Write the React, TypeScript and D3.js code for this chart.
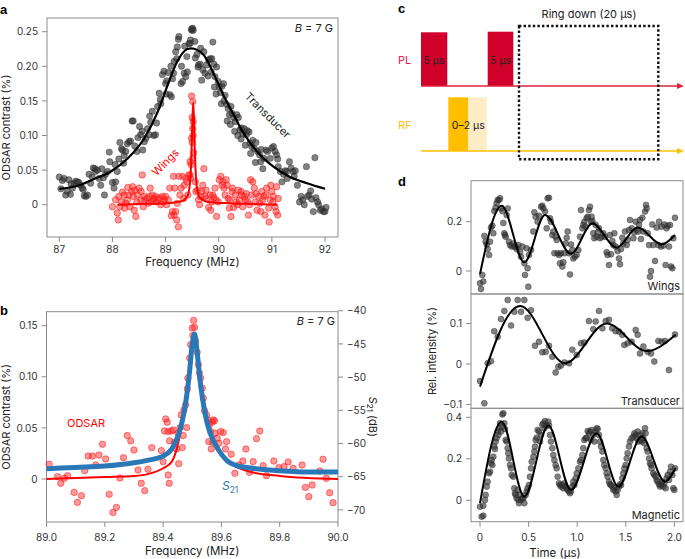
import React from "react";
import * as d3 from "d3";

type P = [number, number];

// ---------- Panel a : transducer (black) ----------
const transducerA: P[] = [
[87.00,0.040],[87.03,0.023],[87.06,0.035],[87.09,0.038],[87.12,0.014],[87.15,0.019],[87.18,0.036],[87.21,0.015],[87.25,0.024],[87.28,0.031],[87.31,0.034],[87.34,0.033],[87.37,0.032],[87.40,0.028],[87.43,0.024],[87.47,0.013],[87.50,0.012],[87.53,0.014],[87.56,0.044],[87.59,0.031],[87.64,0.053],[87.67,0.052],[87.68,0.048],[87.72,0.050],[87.75,0.038],[87.78,0.028],[87.83,0.039],[87.85,0.014],[87.87,0.044],[87.91,0.048],[87.94,0.076],[87.95,0.062],[88.00,0.032],[88.03,0.024],[88.06,0.033],[88.09,0.048],[88.12,0.066],[88.14,0.090],[88.17,0.081],[88.19,0.079],[88.22,0.071],[88.25,0.077],[88.28,0.088],[88.31,0.091],[88.34,0.092],[88.37,0.121],[88.39,0.121],[88.42,0.085],[88.46,0.077],[88.48,0.097],[88.51,0.113],[88.53,0.101],[88.57,0.079],[88.60,0.091],[88.63,0.096],[88.66,0.110],[88.69,0.101],[88.72,0.119],[88.75,0.135],[88.78,0.100],[88.81,0.101],[88.85,0.142],[88.88,0.161],[88.91,0.146],[88.94,0.188],[88.97,0.193],[89.00,0.175],[89.02,0.179],[89.05,0.191],[89.08,0.159],[89.11,0.156],[89.13,0.182],[89.16,0.207],[89.19,0.221],[89.21,0.211],[89.24,0.239],[89.25,0.243],[89.29,0.175],[89.32,0.178],[89.35,0.190],[89.38,0.185],[89.41,0.192],[89.44,0.233],[89.47,0.238],[89.49,0.252],[89.51,0.255],
[89.49,0.254],[89.52,0.252],[89.46,0.233],[89.55,0.236],[89.59,0.217],[89.62,0.202],[89.65,0.203],[89.68,0.180],[89.70,0.195],[89.74,0.190],[89.77,0.202],[89.81,0.209],[89.84,0.211],[89.87,0.211],[89.89,0.235],[89.91,0.203],[89.93,0.185],[89.96,0.199],[89.99,0.178],[90.03,0.162],[90.06,0.171],[90.09,0.175],[90.12,0.158],[90.15,0.145],[90.18,0.139],[90.20,0.130],[90.23,0.142],[90.25,0.132],[90.28,0.126],[90.31,0.120],[90.34,0.130],[90.37,0.126],[90.40,0.108],[90.43,0.111],[90.45,0.103],[90.48,0.110],[90.52,0.101],[90.54,0.107],[90.57,0.105],[90.59,0.089],[90.62,0.084],[90.64,0.093],[90.67,0.081],[90.70,0.090],[90.73,0.077],[90.77,0.072],[90.79,0.062],[90.83,0.052],[90.85,0.067],[90.89,0.079],[90.92,0.077],[90.97,0.067],[91.00,0.082],[91.03,0.084],[91.06,0.077],[91.09,0.072],[91.11,0.066],[91.12,0.055],[91.16,0.048],[91.19,0.033],[91.22,0.044],[91.25,0.049],[91.28,0.048],[91.29,0.038],[91.33,0.062],[91.36,0.053],[91.40,0.048],[91.42,0.041],[91.44,0.049],[91.48,0.028],[91.52,0.004],[91.55,0.012],[91.58,0.007],[91.61,0.000],[91.65,0.055],[91.67,0.012],[91.70,0.014],[91.73,0.020],[91.75,0.008],[91.78,-0.010],[91.81,0.068],[91.83,0.010],[91.86,0.004],[91.88,0.000],[91.91,-0.008],[91.94,-0.006],[91.97,-0.010],[92.00,-0.010],[92.02,-0.004],
[87.22,0.030],[87.45,0.022],[87.62,0.040],[87.80,0.052],[88.05,0.058],[88.21,0.060],[88.56,0.106],[88.70,0.128],[88.83,0.118],[88.90,0.152],[89.01,0.160],[89.10,0.200],[89.15,0.190],[89.22,0.228],[89.30,0.200],[89.36,0.229],[89.40,0.214],[89.56,0.212],[89.61,0.199],[89.66,0.226],[89.72,0.221],[89.80,0.186],[89.86,0.192],[89.92,0.170],[89.95,0.160],[90.01,0.170],[90.05,0.146],[90.10,0.150],[90.16,0.121],[90.22,0.116],[90.30,0.106],[90.36,0.100],[90.42,0.095],[90.50,0.086],[90.60,0.074],[90.69,0.061],[90.80,0.080]
];
const transducerFitA: P[] = [
[87.0,0.023],[87.34,0.027],[87.65,0.037],[87.97,0.048],[88.29,0.067],[88.6,0.096],[88.85,0.134],[89.03,0.171],[89.22,0.207],[89.41,0.225],[89.48,0.226],[89.71,0.217],[89.9,0.19],[90.09,0.158],[90.28,0.130],[90.47,0.103],[90.72,0.077],[91.03,0.055],[91.34,0.040],[91.66,0.031],[92.0,0.023]
];

// ---------- Panel a : wings (red) ----------
const wingsA: P[] = [
[88.00,-0.003],[88.06,0.007],[88.09,-0.012],[88.11,-0.022],[88.12,0.012],[88.14,-0.003],[88.17,0.004],[88.19,0.018],[88.22,0.014],[88.23,-0.005],[88.25,0.002],[88.28,0.007],[88.29,0.025],[88.31,0.014],[88.33,-0.003],[88.36,0.019],[88.38,0.026],[88.39,0.012],[88.41,-0.008],[88.42,0.021],[88.44,-0.017],[88.46,0.004],[88.47,0.014],[88.50,0.024],[88.53,0.007],[88.54,0.019],[88.56,0.043],[88.58,-0.003],[88.60,0.012],[88.61,0.007],[88.65,0.009],[88.67,0.002],[88.69,0.012],[88.71,0.024],[88.73,0.004],[88.75,0.014],[88.77,0.007],[88.78,0.009],[88.81,0.012],[88.83,0.004],[88.86,0.008],[88.88,0.010],[88.91,0.000],[88.94,0.012],[88.96,0.004],[88.98,0.008],[89.00,0.012],[89.02,0.000],[89.05,0.007],[89.08,0.024],[89.11,-0.016],[89.13,-0.010],[89.15,0.041],[89.16,-0.015],[89.17,0.024],[89.19,-0.010],[89.21,-0.022],[89.22,0.002],[89.24,-0.032],[89.25,0.041],[89.27,0.014],[89.29,0.024],[89.32,0.041],[89.34,0.009],[89.35,0.028],[89.38,0.038],[89.40,0.033],[89.42,0.014],[89.44,0.043],[89.46,0.062],[89.47,0.038],[89.49,0.157],[89.51,0.149],[89.52,0.120],
[89.50,0.126],[89.51,0.110],[89.52,0.100],[89.50,0.090],[89.53,0.075],[89.48,0.058],
[89.46,0.043],[89.49,0.096],[89.51,0.067],[89.56,0.033],[89.57,0.019],[89.60,0.021],[89.62,0.007],[89.64,0.000],[89.66,0.012],[89.68,0.019],[89.70,0.028],[89.72,0.052],[89.74,0.012],[89.76,0.021],[89.77,0.009],[89.81,-0.004],[89.84,0.014],[89.85,-0.008],[89.87,0.004],[89.89,0.014],[89.91,0.010],[89.93,0.024],[89.95,0.007],[89.96,-0.017],[89.99,0.004],[90.01,0.036],[90.04,0.041],[90.06,0.028],[90.08,0.033],[90.10,0.024],[90.12,0.014],[90.14,0.036],[90.16,0.028],[90.18,0.009],[90.20,-0.005],[90.21,0.007],[90.23,-0.017],[90.25,0.019],[90.26,0.024],[90.28,-0.004],[90.31,0.014],[90.33,0.004],[90.35,0.000],[90.37,0.021],[90.39,0.007],[90.42,0.019],[90.43,0.014],[90.45,-0.003],[90.48,0.012],[90.50,0.007],[90.52,0.016],[90.54,0.005],[90.56,-0.015],[90.58,0.000],[90.60,0.036],[90.62,0.014],[90.64,0.033],[90.67,0.024],[90.69,0.004],[90.70,0.016],[90.72,-0.008],[90.75,0.012],[90.77,0.002],[90.79,-0.010],[90.81,0.019],[90.83,0.007],[90.85,0.012],[90.87,-0.015],[90.89,0.014],[90.90,0.024],[90.94,-0.005],[90.95,-0.025],[90.97,0.007],[90.98,0.028],[91.00,0.019],[91.02,0.004],[91.03,0.012],[91.06,-0.003],[91.08,-0.010],[91.09,0.026],[91.11,-0.015],[91.12,0.009]
];
const wingsFitA: P[] = [
[88.1,0],[88.5,0.001],[89.0,0.002],[89.3,0.005],[89.40,0.011],[89.44,0.02],[89.47,0.042],[89.49,0.08],[89.505,0.122],[89.52,0.148],[89.535,0.122],[89.55,0.08],[89.57,0.042],[89.60,0.02],[89.65,0.01],[89.8,0.004],[90.2,0.002],[90.6,0.001],[91.1,0]
];
const ticksAX = [87, 88, 89, 90, 91, 92];
const ticksAY = [0, 0.05, 0.1, 0.15, 0.2, 0.25];

// ---------- Panel b ----------
const odsarB: P[] = [
[89.009,0.0144],[89.038,0.0023],[89.049,-0.0042],[89.061,0.0007],[89.072,0.0033],[89.095,-0.0131],[89.106,-0.0229],[89.120,-0.0163],[89.131,0.0082],[89.143,0.0225],[89.158,0.0225],[89.169,0.0137],[89.180,0.0235],[89.192,0.034],[89.203,0.0196],[89.215,-0.015],[89.228,-0.0327],[89.240,-0.0278],[89.252,0.001],[89.264,0.0209],[89.277,0.0425],[89.289,0.0373],[89.300,0.0284],[89.314,0.0088],[89.325,-0.0042],[89.337,-0.0114],[89.348,0.0095],[89.361,0.0307],[89.394,0.0278],[89.400,0.017],[89.405,0.047],[89.409,0.0588],[89.414,0.0556],[89.417,0.0464],[89.4225,0.0373],[89.421,-0.0042],[89.4175,0.0039],[89.428,0.047],[89.435,0.048],[89.440,0.036],[89.446,0.0294],[89.451,0.0448],[89.4535,0.015],[89.458,0.0503],[89.462,0.0627],[89.466,0.0307],[89.469,0.0425],[89.4716,0.0676],[89.477,0.0725],[89.4807,0.0503],[89.483,0.0882],[89.485,0.0987],[89.491,0.1183],[89.4945,0.1314],[89.500,0.1477],[89.5047,0.1552],[89.508,0.1484],[89.502,0.1405],[89.5115,0.1346],[89.517,0.1239],[89.521,0.1118],[89.5245,0.1036],[89.5287,0.0987],[89.5344,0.0889],[89.538,0.0791],[89.5424,0.0667],[89.549,0.0627],[89.5538,0.0578],[89.558,0.0523],[89.563,0.0464],[89.5686,0.0556],[89.572,0.0578],[89.5766,0.0569],[89.5565,0.0366],[89.5652,0.0294],[89.5701,0.036],[89.578,0.0448],[89.5857,0.0399],[89.5914,0.035],[89.597,0.0464],[89.6063,0.0454],[89.6143,0.0294],[89.6177,0.0366],[89.6337,0.0242],[89.6462,0.0056],[89.6599,0.0137],[89.6736,0.0176],[89.6839,0.0294],[89.6964,0.0065],[89.709,0.017],[89.7204,0.0395],[89.7318,0.047],[89.7433,0.0131],[89.7547,0.0033],[89.7798,0.0176],[89.7969,0.0111],[89.8148,0.0121],[89.8289,0.0167],[89.846,0.0105],[89.8768,0.0137],[89.8882,-0.0082],[89.8997,-0.0173],[89.9111,-0.0059],[89.9373,0.0078],[89.9487,0.0193],[89.9601,0.0007],[89.9716,-0.0134],[89.983,-0.0232]
];
const odsarFitB: P[] = [
[89.0,0],[89.2,0.002],[89.3,0.003],[89.35,0.005],[89.4,0.0105],[89.43,0.017],[89.45,0.033],[89.47,0.063],[89.49,0.105],[89.506,0.1395],[89.52,0.112],[89.54,0.0725],[89.56,0.046],[89.6,0.0235],[89.65,0.012],[89.7,0.007],[89.8,0.003],[90.0,0]
];
const s21B: P[] = [
[89.0,-63.8],[89.1,-63.6],[89.2,-63.4],[89.3,-62.9],[89.35,-62.5],[89.4,-61.9],[89.43,-60.8],[89.45,-59.0],[89.46,-57.6],[89.47,-55.7],[89.48,-53.1],[89.49,-49.5],[89.5,-45.0],[89.508,-43.5],[89.515,-45.5],[89.52,-47.6],[89.53,-51.6],[89.54,-54.5],[89.55,-56.7],[89.565,-58.8],[89.58,-60.2],[89.6,-61.6],[89.62,-62.6],[89.65,-63.3],[89.7,-63.7],[89.8,-64.1],[89.9,-64.3],[90.0,-64.3]
];
const ticksBX = [89.0, 89.2, 89.4, 89.6, 89.8, 90.0];
const ticksBY = [0, 0.05, 0.1, 0.15];
const ticksBY2 = [-40, -45, -50, -55, -60, -65, -70];

// ---------- Panel d ----------
const wingsD: P[] = [
[0.000,-0.050],[0.010,-0.073],[0.024,-0.016],[0.034,-0.043],[0.045,0.142],[0.058,0.119],[0.069,0.108],[0.079,0.089],[0.093,0.065],[0.103,0.119],[0.113,0.176],[0.127,0.184],[0.137,0.153],[0.147,0.243],[0.161,0.257],[0.171,0.275],[0.182,0.288],[0.195,0.288],[0.206,0.295],[0.216,0.254],[0.230,0.243],[0.240,0.195],[0.250,0.153],[0.257,0.146],[0.264,0.139],[0.274,0.227],[0.285,0.254],[0.298,0.119],[0.309,0.105],[0.326,0.099],[0.343,0.112],[0.353,0.099],[0.367,0.099],[0.377,0.089],[0.394,0.105],[0.412,0.078],[0.422,0.058],[0.436,0.099],[0.456,0.031],[0.463,-0.016],[0.480,0.092],[0.490,0.011],[0.497,-0.064],[0.504,0.065],[0.525,0.085],[0.549,0.160],[0.559,0.238],[0.573,0.220],[0.593,0.200],[0.607,0.224],[0.628,0.261],[0.641,0.265],[0.652,0.254],[0.669,0.241],[0.686,0.173],[0.696,0.295],[0.710,0.297],[0.720,0.214],[0.730,0.200],[0.744,0.146],[0.754,0.160],[0.765,0.072],[0.778,0.139],[0.789,0.126],[0.799,0.072],[0.813,0.065],[0.823,0.031],[0.833,0.072],[0.847,0.018],[0.857,0.035],[0.868,0.072],[0.881,0.112],[0.892,0.135],[0.902,0.160],[0.916,0.072],[0.926,-0.014],[0.936,0.108],[0.950,0.085],[0.960,0.051],[0.977,0.058],[0.995,0.065],[1.012,0.085],[1.029,0.139],[1.039,0.247],[1.053,0.173],[1.063,0.187],[1.073,0.200],[1.087,0.180],[1.097,0.214],[1.108,0.220],[1.121,0.247],[1.132,0.261],[1.142,0.200],[1.149,0.220],[1.156,0.203],[1.166,0.153],[1.176,0.133],[1.190,0.187],[1.200,0.139],[1.211,0.157],[1.224,0.173],[1.235,0.133],[1.252,0.139],[1.269,0.153],[1.286,0.139],[1.303,0.076],[1.313,0.065],[1.327,0.024],[1.337,0.146],[1.348,0.068],[1.361,0.122],[1.372,0.105],[1.382,0.153],[1.396,0.099],[1.416,0.081],[1.430,0.051],[1.440,0.027],[1.451,0.089],[1.464,0.135],[1.475,0.112],[1.492,0.160],[1.509,0.105],[1.519,0.126],[1.533,0.166],[1.543,0.207],[1.560,0.173],[1.578,0.133],[1.588,0.157],[1.602,0.200],[1.612,0.166],[1.629,0.160],[1.636,0.187],[1.646,0.207],[1.656,0.130],[1.670,0.216],[1.680,0.160],[1.698,0.241],[1.708,0.268],[1.715,0.254],[1.725,0.153],[1.739,0.105],[1.749,-0.023],[1.759,0.000],[1.773,0.189],[1.783,0.105],[1.801,0.041],[1.818,0.176],[1.835,0.105],[1.842,0.200],[1.862,0.099],[1.869,0.180],[1.886,0.103],[1.896,0.189],[1.910,0.024],[1.920,0.173],[1.931,0.184],[1.944,0.099],[1.955,0.187],[1.965,0.018],[1.979,0.011],[1.989,0.133],[2.006,0.216]
];
const wingsFitD: P[] = [
[0,-0.012],[0.223,0.265],[0.456,0.035],[0.669,0.227],[0.936,0.070],[1.156,0.193],[1.406,0.095],[1.622,0.176],[1.869,0.108],[2.006,0.146]
];
const transD: P[] = [
[0.000,-0.042],[0.045,-0.097],[0.079,0.002],[0.113,0.007],[0.147,0.081],[0.182,0.067],[0.216,0.111],[0.250,0.131],[0.285,0.158],[0.319,0.095],[0.353,0.129],[0.388,0.158],[0.422,0.129],[0.456,0.158],[0.490,0.114],[0.525,0.133],[0.566,0.045],[0.607,0.055],[0.641,0.029],[0.676,0.030],[0.710,0.045],[0.744,0.018],[0.778,-0.021],[0.806,-0.007],[0.833,-0.004],[0.868,0.004],[0.916,0.002],[0.950,0.035],[0.995,0.022],[1.039,0.051],[1.073,0.053],[1.121,0.106],[1.166,0.086],[1.190,0.105],[1.224,0.131],[1.259,0.088],[1.293,0.106],[1.327,0.109],[1.361,0.088],[1.396,0.081],[1.430,0.080],[1.464,0.072],[1.485,0.047],[1.519,0.051],[1.560,0.055],[1.602,0.084],[1.622,0.072],[1.646,0.026],[1.680,0.043],[1.725,0.030],[1.759,0.026],[1.793,0.006],[1.835,0.057],[1.869,0.055],[1.903,0.057],[1.944,-0.015],[2.006,0.073]
];
const transFitD: P[] = [
[0,-0.056],[0.412,0.143],[0.874,0.002],[1.303,0.100],[1.715,0.032],[2.013,0.072]
];
const magD: P[] = [
[0.000,-0.031],[0.017,-0.079],[0.034,-0.074],[0.034,-0.026],[0.051,0.002],[0.058,0.026],[0.069,0.066],[0.079,0.090],[0.093,0.130],[0.103,0.138],[0.113,0.178],[0.120,0.194],[0.127,0.170],[0.137,0.210],[0.147,0.259],[0.154,0.247],[0.161,0.283],[0.171,0.299],[0.182,0.331],[0.189,0.315],[0.195,0.347],[0.206,0.371],[0.216,0.331],[0.223,0.355],[0.230,0.414],[0.240,0.419],[0.250,0.371],[0.257,0.344],[0.264,0.291],[0.274,0.283],[0.285,0.251],[0.291,0.227],[0.298,0.202],[0.309,0.170],[0.319,0.154],[0.326,0.122],[0.343,0.114],[0.353,0.058],[0.360,0.034],[0.367,0.026],[0.377,0.010],[0.388,0.050],[0.394,0.002],[0.401,-0.014],[0.412,0.026],[0.422,0.002],[0.436,0.010],[0.446,0.010],[0.456,-0.014],[0.470,0.026],[0.480,0.042],[0.490,0.058],[0.504,0.074],[0.514,0.114],[0.525,0.154],[0.532,0.186],[0.549,0.210],[0.559,0.235],[0.566,0.259],[0.573,0.291],[0.583,0.302],[0.593,0.339],[0.607,0.331],[0.617,0.283],[0.628,0.315],[0.641,0.363],[0.652,0.371],[0.662,0.347],[0.669,0.382],[0.686,0.360],[0.703,0.379],[0.710,0.360],[0.720,0.315],[0.730,0.283],[0.744,0.251],[0.754,0.218],[0.765,0.194],[0.778,0.170],[0.789,0.154],[0.799,0.114],[0.813,0.082],[0.823,0.074],[0.833,0.066],[0.847,0.074],[0.857,0.058],[0.868,0.082],[0.881,0.066],[0.892,0.058],[0.902,0.050],[0.916,0.042],[0.926,0.034],[0.936,0.045],[0.950,0.066],[0.960,0.090],[0.971,0.074],[0.984,0.106],[0.995,0.130],[1.012,0.154],[1.029,0.186],[1.039,0.194],[1.053,0.218],[1.063,0.251],[1.073,0.291],[1.087,0.299],[1.097,0.302],[1.108,0.334],[1.121,0.323],[1.132,0.331],[1.142,0.291],[1.149,0.339],[1.166,0.315],[1.176,0.283],[1.190,0.331],[1.200,0.347],[1.211,0.344],[1.224,0.315],[1.235,0.283],[1.245,0.259],[1.259,0.235],[1.269,0.194],[1.279,0.170],[1.293,0.154],[1.303,0.130],[1.313,0.114],[1.327,0.090],[1.337,0.077],[1.348,0.074],[1.361,0.066],[1.372,0.050],[1.382,0.058],[1.396,0.042],[1.406,0.026],[1.416,0.050],[1.430,0.066],[1.440,0.077],[1.451,0.074],[1.464,0.106],[1.475,0.130],[1.485,0.154],[1.499,0.170],[1.509,0.202],[1.519,0.227],[1.533,0.259],[1.543,0.283],[1.560,0.299],[1.578,0.307],[1.588,0.323],[1.602,0.315],[1.612,0.299],[1.622,0.331],[1.629,0.283],[1.646,0.315],[1.656,0.291],[1.663,0.283],[1.670,0.323],[1.680,0.299],[1.691,0.275],[1.698,0.347],[1.704,0.323],[1.715,0.251],[1.725,0.235],[1.739,0.202],[1.749,0.178],[1.759,0.170],[1.766,0.154],[1.783,0.130],[1.794,0.122],[1.807,0.114],[1.818,0.098],[1.828,0.090],[1.842,0.077],[1.852,0.066],[1.862,0.074],[1.876,0.090],[1.886,0.066],[1.896,0.082],[1.910,0.058],[1.920,0.106],[1.931,0.122],[1.944,0.098],[1.955,0.138],[1.965,0.162],[1.979,0.122],[1.989,0.058],[1.999,0.050],[2.006,0.154]
];
const magFitD: P[] = [
[0,-0.014],[0.223,0.379],[0.456,0.018],[0.703,0.360],[0.936,0.050],[1.2,0.323],[1.423,0.066],[1.663,0.307],[1.903,0.09],[2.013,0.157]
];
const ticksDX = [0, 0.5, 1.0, 1.5, 2.0];
const ticksWY = [0, 0.2];
const ticksTY = [-0.1, 0, 0.1];
const ticksMY = [0, 0.2, 0.4];

const FONT = "Inter, 'Noto Sans', 'Liberation Sans', sans-serif";
const AX = "#8c8c8c";
const TXT = "#333";
const RED = "#ff1a1a";
const BLUE = "#2a78b8";

const fmtMinus = (s: string) => s.replace("-", "\u2212");

export default function App() {
  // panel a
  const xA = d3.scaleLinear().domain([87, 92]).range([59.3, 325]);
  const yA = d3.scaleLinear().domain([0, 0.25]).range([204.7, 31.7]);
  const fA = { l: 47, r: 338, t: 18, b: 237 };
  // panel b
  const xB = d3.scaleLinear().domain([89, 90]).range([46.5, 338]);
  const yB = d3.scaleLinear().domain([0, 0.15]).range([479, 325.7]);
  const yB2 = d3.scaleLinear().domain([-40, -70]).range([310.7, 509.9]);
  const fB = { l: 46.5, r: 338, t: 311.7, b: 522 };
  // panel d
  const xD = d3.scaleLinear().domain([0, 2]).range([480, 674.4]);
  const yW = d3.scaleLinear().domain([0, 0.2]).range([271, 221.7]);
  const yT = d3.scaleLinear().domain([-0.1, 0.1]).range([404.5, 323.5]);
  const yM = d3.scaleLinear().domain([0, 0.4]).range([500.3, 417.3]);
  const dL = 471, dR = 683;
  const dRows = [180.7, 294, 408.3, 521.7];

  const mk = (x: any, y: any) =>
    d3.line<P>().x((d) => x(d[0])).y((d) => y(d[1])).curve(d3.curveMonotoneX);

  const dot = (key: string, cx: number, cy: number, red: boolean, r = 3.2) =>
    red ? (
      <circle key={key} cx={cx} cy={cy} r={r} fill={RED} fillOpacity={0.45} stroke={RED} strokeOpacity={0.55} strokeWidth={1} />
    ) : (
      <circle key={key} cx={cx} cy={cy} r={r} fill="#333" fillOpacity={0.62} stroke="#222" strokeOpacity={0.45} strokeWidth={0.8} />
    );

  const frame = (f: { l: number; r: number; t: number; b: number }) => (
    <rect x={f.l} y={f.t} width={f.r - f.l} height={f.b - f.t} fill="none" stroke={AX} strokeWidth={1} />
  );

  const yTicksLeft = (ticks: number[], y: any, x0: number, fmt: (v: number) => string, key: string) =>
    ticks.map((v) => (
      <g key={key + v}>
        <line x1={x0 - 5} x2={x0} y1={y(v)} y2={y(v)} stroke={AX} />
        <text x={x0 - 9} y={y(v) + 3.6} textAnchor="end" fontSize={10} fill={TXT}>
          {fmt(v)}
        </text>
      </g>
    ));
  const xTicksBottom = (ticks: number[], x: any, y0: number, fmt: (v: number) => string, key: string, ly: number) =>
    ticks.map((v) => (
      <g key={key + v}>
        <line x1={x(v)} x2={x(v)} y1={y0} y2={y0 + 5} stroke={AX} />
        <text x={x(v)} y={ly} textAnchor="middle" fontSize={10} fill={TXT}>
          {fmt(v)}
        </text>
      </g>
    ));

  const fmt2 = (v: number) => (v === 0 ? "0" : v.toFixed(2));
  const fmt1 = (v: number) => (v === 0 ? "0" : fmtMinus(v.toFixed(1)));

  return (
    <svg
      width={685}
      height={559}
      style={{ position: "absolute", left: 0, top: 0, background: "#fff" }}
      fontFamily={FONT}
    >
      {/* ================= Panel a ================= */}
      <text x={0} y={13.5} fontSize={13} fontWeight="bold" fontFamily="'Liberation Sans', Arial, sans-serif">a</text>
      {frame(fA)}
      {yTicksLeft(ticksAY, yA, fA.l, fmt2, "ay")}
      {xTicksBottom(ticksAX, xA, fA.b, (v) => String(v), "ax", 252.5)}
      <g>{transducerA.map((d, i) => dot("ta" + i, xA(d[0]), yA(d[1]), false))}</g>
      <g>{wingsA.map((d, i) => dot("wa" + i, xA(d[0]), yA(d[1]), true))}</g>
      <path d={mk(xA, yA)(transducerFitA) || ""} fill="none" stroke="#000" strokeWidth={2.2} />
      <path d={mk(xA, yA)(wingsFitA) || ""} fill="none" stroke="#ff0000" strokeWidth={2} />
      <text x={333} y={31.5} textAnchor="end" fontSize={11} fill="#222">
        <tspan fontStyle="italic">B</tspan> = 7 G
      </text>
      <text transform="translate(168,165) rotate(-45)" textAnchor="middle" fontSize={11} fill="#ff0000">Wings</text>
      <text transform="translate(265,118) rotate(45)" textAnchor="middle" fontSize={11} fill="#222">Transducer</text>
      <text transform={`translate(10,${(fA.t + fA.b) / 2}) rotate(-90)`} textAnchor="middle" fontSize={11} fill="#222">ODSAR contrast (%)</text>
      <text x={(fA.l + fA.r) / 2} y={266} textAnchor="middle" fontSize={11.5} fill="#222">Frequency (MHz)</text>

      {/* ================= Panel b ================= */}
      <text x={0} y={315} fontSize={13} fontWeight="bold" fontFamily="'Liberation Sans', Arial, sans-serif">b</text>
      {frame(fB)}
      {yTicksLeft(ticksBY, yB, fB.l, fmt2, "by")}
      {xTicksBottom(ticksBX, xB, fB.b, (v) => v.toFixed(1), "bx", 540.5)}
      {ticksBY2.map((v) => (
        <g key={"by2" + v}>
          <line x1={fB.r} x2={fB.r + 5} y1={yB2(v)} y2={yB2(v)} stroke={AX} />
          <text x={fB.r + 9} y={yB2(v) + 3.6} fontSize={10} fill={TXT}>{fmtMinus(String(v))}</text>
        </g>
      ))}
      <g>{odsarB.map((d, i) => dot("ob" + i, xB(d[0]), yB(d[1]), true))}</g>
      <path d={mk(xB, yB)(odsarFitB) || ""} fill="none" stroke="#ff0000" strokeWidth={2} />
      <path d={mk(xB, yB2)(s21B) || ""} fill="none" stroke={BLUE} strokeWidth={5} strokeLinejoin="round" />
      <text x={335} y={325} textAnchor="end" fontSize={11} fill="#222">
        <tspan fontStyle="italic">B</tspan> = 7 G
      </text>
      <text x={67} y={427} fontSize={11} fill="#ff0000">ODSAR</text>
      <text x={222} y={490} fontSize={12} fill={BLUE}>
        <tspan fontStyle="italic">S</tspan>
        <tspan fontSize={8.5} dy={3}>21</tspan>
      </text>
      <text transform={`translate(10,${(fB.t + fB.b) / 2}) rotate(-90)`} textAnchor="middle" fontSize={11} fill="#222">ODSAR contrast (%)</text>
      <text transform={`translate(369,${(fB.t + fB.b) / 2}) rotate(90)`} textAnchor="middle" fontSize={11} fill="#222">
        <tspan fontStyle="italic">S</tspan>
        <tspan fontSize={8} dy={2.5}>21</tspan>
        <tspan dy={-2.5}> (dB)</tspan>
      </text>
      <text x={(fB.l + fB.r) / 2} y={555} textAnchor="middle" fontSize={11.5} fill="#222">Frequency (MHz)</text>

      {/* ================= Panel c ================= */}
      <text x={398} y={12.5} fontSize={13} fontWeight="bold" fontFamily="'Liberation Sans', Arial, sans-serif">c</text>
      <text x={589} y={17.5} textAnchor="middle" fontSize={11} fill="#222">Ring down (20 μs)</text>
      <text x={398} y={64} fontSize={11} fill="#e0204a">PL</text>
      <text x={398} y={129} fontSize={11} fill="#ffbe0f">RF</text>
      <rect x={421} y={32.3} width={26.3} height={53.7} fill="#d1002b" />
      <rect x={487.7} y={31.7} width={25.6} height={54.3} fill="#d1002b" />
      <text x={434} y={64} textAnchor="middle" fontSize={10.5} fill="#222">5 μs</text>
      <text x={500.5} y={64} textAnchor="middle" fontSize={10.5} fill="#222">5 μs</text>
      <line x1={421} x2={679} y1={86} y2={86} stroke="#e3203d" strokeWidth={1.5} />
      <polygon points="677,83 684,86 677,89" fill="#e3203d" />
      <rect x={448.3} y={97.3} width={19.7} height={53.7} fill="#ffbf00" />
      <rect x={468} y={97.3} width={18.7} height={53.7} fill="#fdecc6" />
      <text x={468.3} y={129} textAnchor="middle" fontSize={10.5} fill="#222">0–2 μs</text>
      <line x1={421} x2={679} y1={151} y2={151} stroke="#ffbf00" strokeWidth={1.5} />
      <polygon points="677,148 684,151 677,154" fill="#ffbf00" />
      <rect x={519} y={26} width={139.3} height={133.3} fill="none" stroke="#111" strokeWidth={2.4} strokeDasharray="2.4 2.2" />

      {/* ================= Panel d ================= */}
      <text x={398} y={186} fontSize={13} fontWeight="bold" fontFamily="'Liberation Sans', Arial, sans-serif">d</text>
      {[0, 1, 2].map((i) => (
        <rect key={"df" + i} x={dL} y={dRows[i]} width={dR - dL} height={dRows[i + 1] - dRows[i]} fill="none" stroke={AX} />
      ))}
      {yTicksLeft(ticksWY, yW, dL, fmt1, "wy")}
      {yTicksLeft(ticksTY, yT, dL, fmt1, "ty")}
      {yTicksLeft(ticksMY, yM, dL, fmt1, "my")}
      {xTicksBottom(ticksDX, xD, dRows[3], (v) => (v === 0 ? "0" : v.toFixed(1)), "dx", 541)}
      <g>{wingsD.map((d, i) => dot("wd" + i, xD(d[0]), yW(d[1]), false, 3))}</g>
      <g>{transD.map((d, i) => dot("td" + i, xD(d[0]), yT(d[1]), false, 3))}</g>
      <g>{magD.map((d, i) => dot("md" + i, xD(d[0]), yM(d[1]), false, 3))}</g>
      <path d={mk(xD, yW)(wingsFitD) || ""} fill="none" stroke="#000" strokeWidth={2} />
      <path d={mk(xD, yT)(transFitD) || ""} fill="none" stroke="#000" strokeWidth={2} />
      <path d={mk(xD, yM)(magFitD) || ""} fill="none" stroke="#000" strokeWidth={2} />
      <text x={680} y={290} textAnchor="end" fontSize={11} fill="#222">Wings</text>
      <text x={680} y={405} textAnchor="end" fontSize={11} fill="#222">Transducer</text>
      <text x={680} y={519} textAnchor="end" fontSize={11} fill="#222">Magnetic</text>
      <text transform="translate(436,351) rotate(-90)" textAnchor="middle" fontSize={11} fill="#222">Rel. intensity (%)</text>
      <text x={555} y={557} textAnchor="middle" fontSize={11.5} fill="#222">Time (μs)</text>
    </svg>
  );
}
